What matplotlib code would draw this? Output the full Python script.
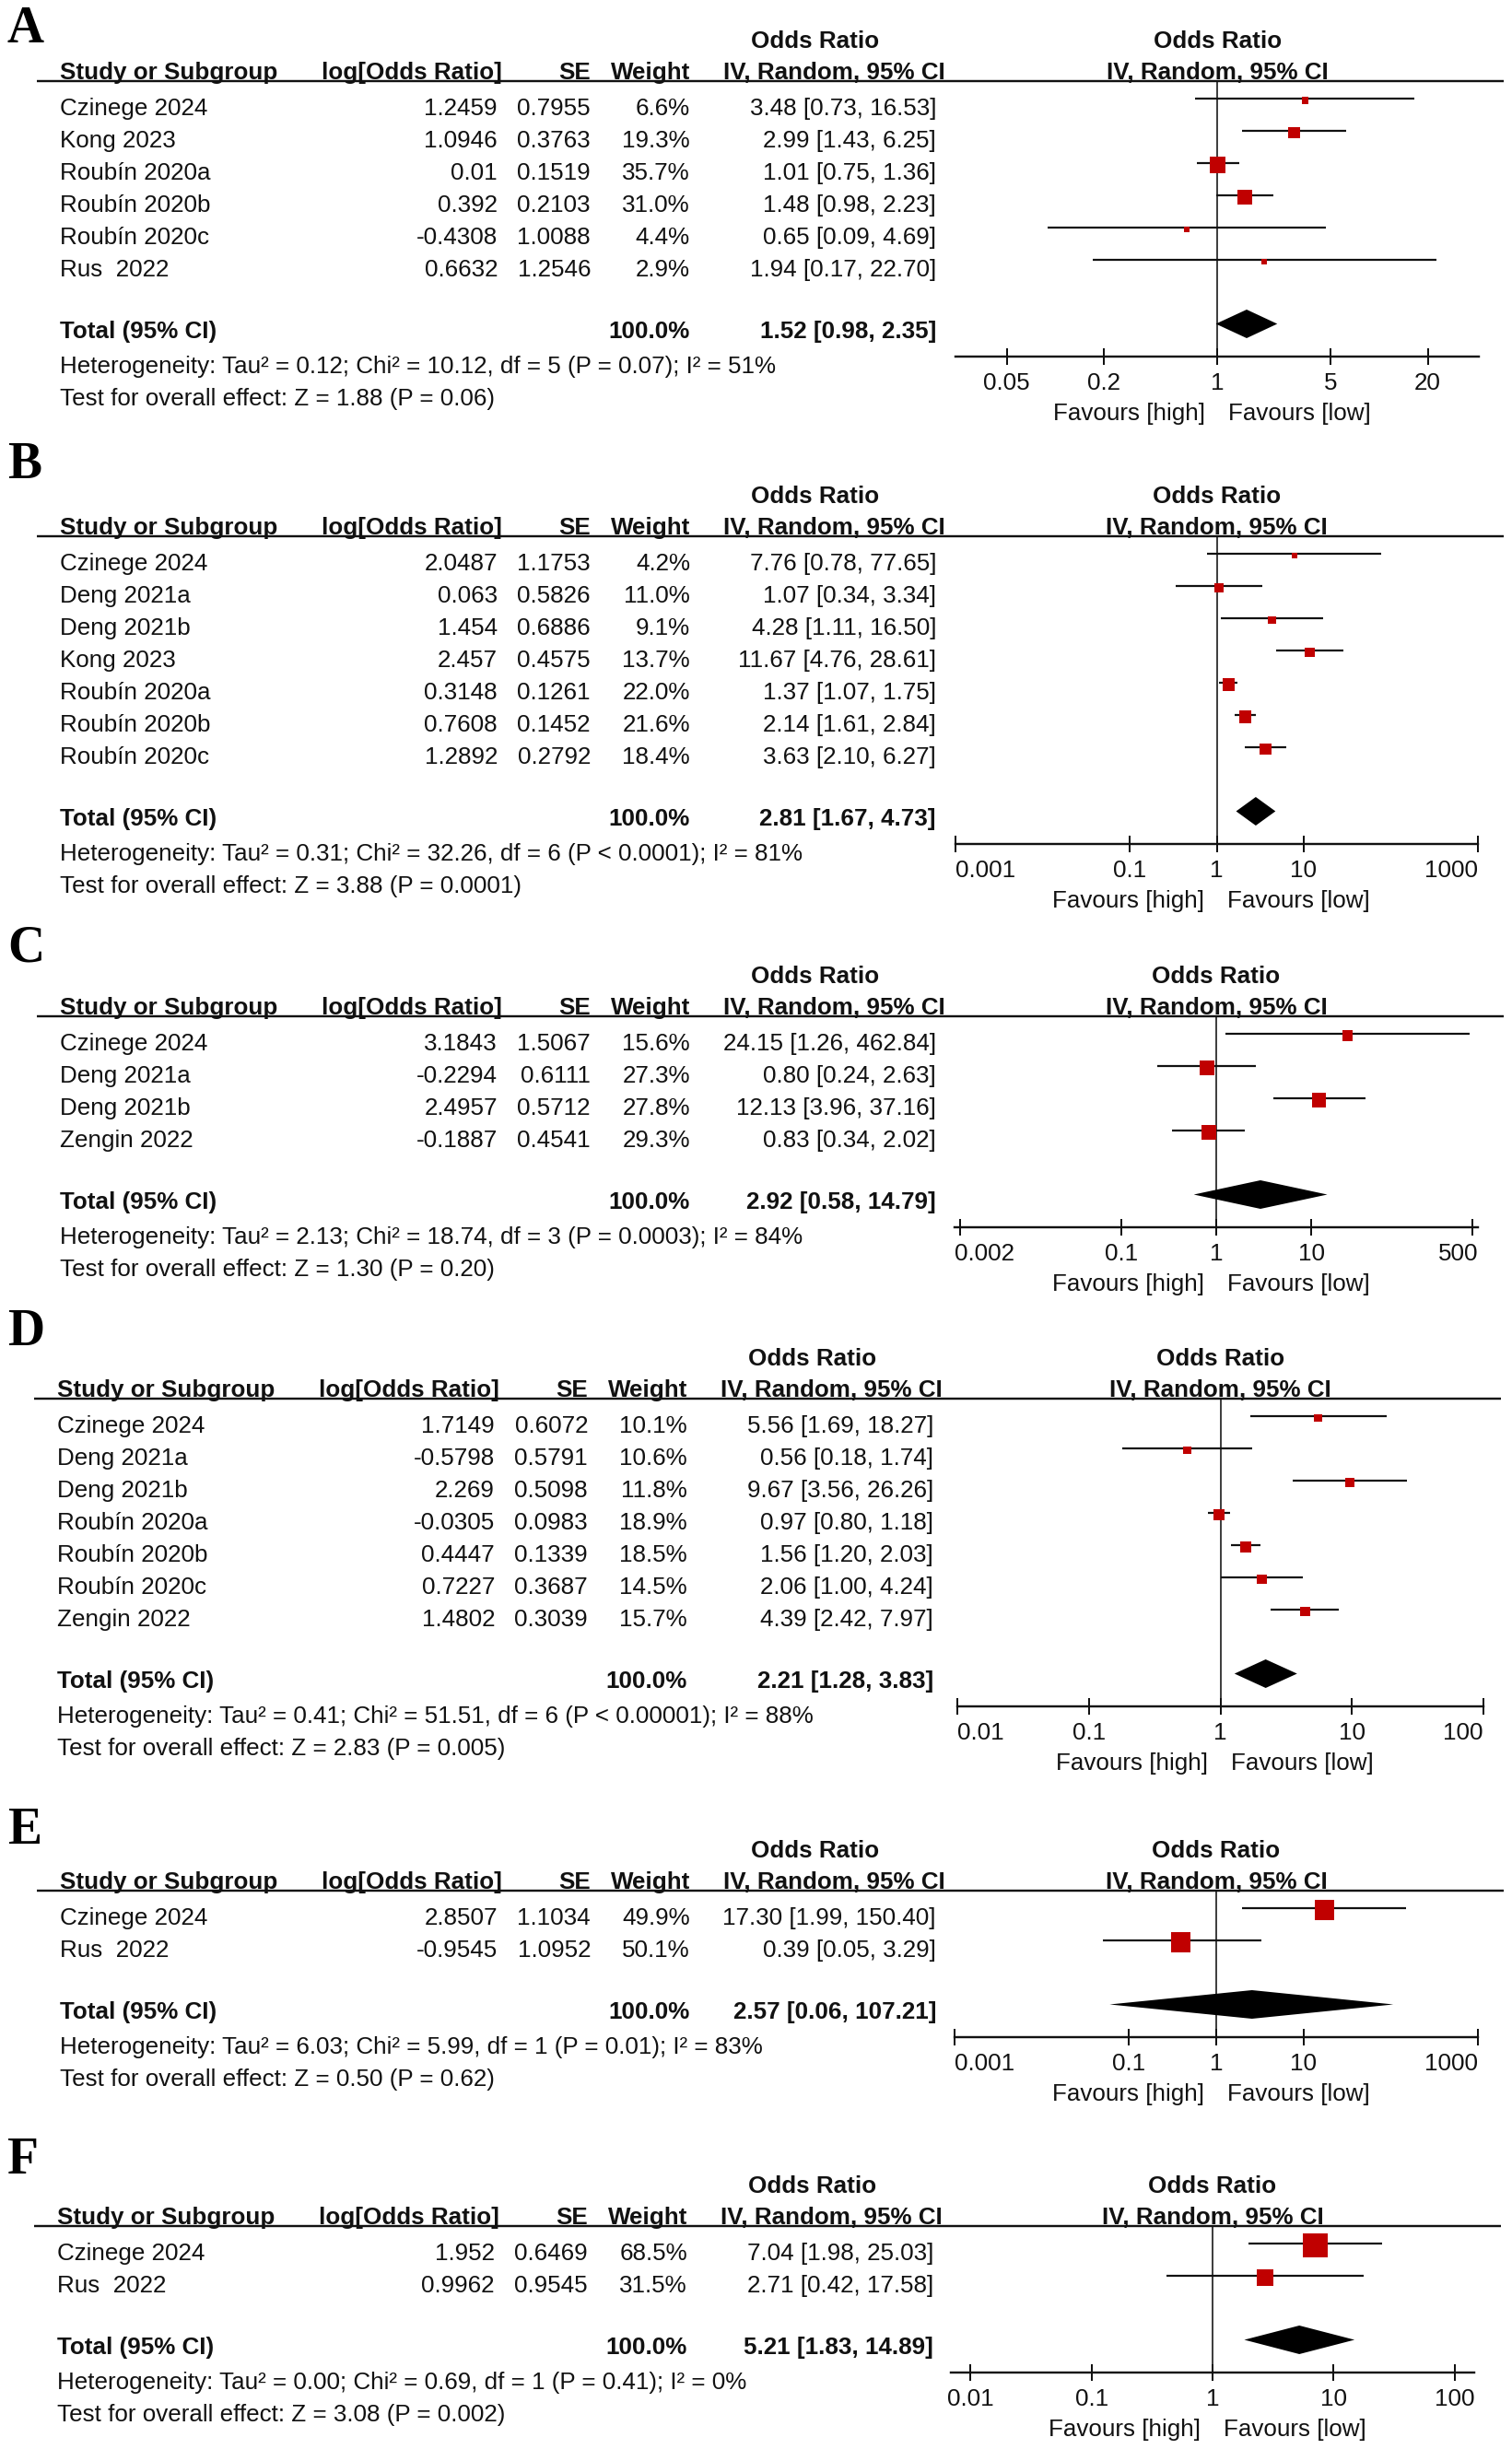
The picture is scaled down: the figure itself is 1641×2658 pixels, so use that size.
import numpy as np
import matplotlib
matplotlib.use("Agg")
import matplotlib.pyplot as plt
from matplotlib.ticker import NullLocator

# Canvas in pixels, everything below is laid out in these units.
W, H_FIG = 1641, 2658
DPI = 100
PX = 72.0 / DPI
FS = 26 * PX
RED = "#c00000"

plt.rcParams['font.family'] = ['Liberation Sans', 'DejaVu Sans']

# ---------------------------------------------------------------- data
# A
studies_a = ["Czinege 2024", "Kong 2023", "Roubín 2020a", "Roubín 2020b", "Roubín 2020c", "Rus  2022"]
logor_a = [1.2459, 1.0946, 0.01, 0.392, -0.4308, 0.6632]
se_a = [0.7955, 0.3763, 0.1519, 0.2103, 1.0088, 1.2546]
weight_a = [6.6, 19.3, 35.7, 31.0, 4.4, 2.9]
or_a = [3.48, 2.99, 1.01, 1.48, 0.65, 1.94]
lo_a = [0.73, 1.43, 0.75, 0.98, 0.09, 0.17]
hi_a = [16.53, 6.25, 1.36, 2.23, 4.69, 22.70]
total_a = [1.52, 0.98, 2.35]
het_a = [0.12, 10.12, 5, "P = 0.07", 51]
z_a = [1.88, "P = 0.06"]
ticks_a = [0.05, 0.2, 1, 5, 20]

# B
studies_b = ["Czinege 2024", "Deng 2021a", "Deng 2021b", "Kong 2023", "Roubín 2020a", "Roubín 2020b", "Roubín 2020c"]
logor_b = [2.0487, 0.063, 1.454, 2.457, 0.3148, 0.7608, 1.2892]
se_b = [1.1753, 0.5826, 0.6886, 0.4575, 0.1261, 0.1452, 0.2792]
weight_b = [4.2, 11.0, 9.1, 13.7, 22.0, 21.6, 18.4]
or_b = [7.76, 1.07, 4.28, 11.67, 1.37, 2.14, 3.63]
lo_b = [0.78, 0.34, 1.11, 4.76, 1.07, 1.61, 2.10]
hi_b = [77.65, 3.34, 16.50, 28.61, 1.75, 2.84, 6.27]
total_b = [2.81, 1.67, 4.73]
het_b = [0.31, 32.26, 6, "P < 0.0001", 81]
z_b = [3.88, "P = 0.0001"]
ticks_b = [0.001, 0.1, 1, 10, 1000]

# C
studies_c = ["Czinege 2024", "Deng 2021a", "Deng 2021b", "Zengin 2022"]
logor_c = [3.1843, -0.2294, 2.4957, -0.1887]
se_c = [1.5067, 0.6111, 0.5712, 0.4541]
weight_c = [15.6, 27.3, 27.8, 29.3]
or_c = [24.15, 0.80, 12.13, 0.83]
lo_c = [1.26, 0.24, 3.96, 0.34]
hi_c = [462.84, 2.63, 37.16, 2.02]
total_c = [2.92, 0.58, 14.79]
het_c = [2.13, 18.74, 3, "P = 0.0003", 84]
z_c = [1.30, "P = 0.20"]
ticks_c = [0.002, 0.1, 1, 10, 500]

# D
studies_d = ["Czinege 2024", "Deng 2021a", "Deng 2021b", "Roubín 2020a", "Roubín 2020b", "Roubín 2020c", "Zengin 2022"]
logor_d = [1.7149, -0.5798, 2.269, -0.0305, 0.4447, 0.7227, 1.4802]
se_d = [0.6072, 0.5791, 0.5098, 0.0983, 0.1339, 0.3687, 0.3039]
weight_d = [10.1, 10.6, 11.8, 18.9, 18.5, 14.5, 15.7]
or_d = [5.56, 0.56, 9.67, 0.97, 1.56, 2.06, 4.39]
lo_d = [1.69, 0.18, 3.56, 0.80, 1.20, 1.00, 2.42]
hi_d = [18.27, 1.74, 26.26, 1.18, 2.03, 4.24, 7.97]
total_d = [2.21, 1.28, 3.83]
het_d = [0.41, 51.51, 6, "P < 0.00001", 88]
z_d = [2.83, "P = 0.005"]
ticks_d = [0.01, 0.1, 1, 10, 100]

# E
studies_e = ["Czinege 2024", "Rus  2022"]
logor_e = [2.8507, -0.9545]
se_e = [1.1034, 1.0952]
weight_e = [49.9, 50.1]
or_e = [17.30, 0.39]
lo_e = [1.99, 0.05]
hi_e = [150.40, 3.29]
total_e = [2.57, 0.06, 107.21]
het_e = [6.03, 5.99, 1, "P = 0.01", 83]
z_e = [0.50, "P = 0.62"]
ticks_e = [0.001, 0.1, 1, 10, 1000]

# F
studies_f = ["Czinege 2024", "Rus  2022"]
logor_f = [1.952, 0.9962]
se_f = [0.6469, 0.9545]
weight_f = [68.5, 31.5]
or_f = [7.04, 2.71]
lo_f = [1.98, 0.42]
hi_f = [25.03, 17.58]
total_f = [5.21, 1.83, 14.89]
het_f = [0.00, 0.69, 1, "P = 0.41", 0]
z_f = [3.08, "P = 0.002"]
ticks_f = [0.01, 0.1, 1, 10, 100]

# ---------------------------------------------------------------- layout
panels = [
    dict(letter="A", letter_y=28, header_y=88, dx=0, plot_px=(1037, 1605), xlim=(0.0241, 41.4), box=2.85,
         studies=studies_a, logor=logor_a, se=se_a, weight=weight_a, est=or_a, lo=lo_a, hi=hi_a,
         total=total_a, het=het_a, z=z_a, ticks=ticks_a),
    dict(letter="B", letter_y=501, header_y=582, dx=0, plot_px=(1037, 1604), xlim=(0.001, 1000), box=2.9,
         studies=studies_b, logor=logor_b, se=se_b, weight=weight_b, est=or_b, lo=lo_b, hi=hi_b,
         total=total_b, het=het_b, z=z_b, ticks=ticks_b),
    dict(letter="C", letter_y=1025, header_y=1103, dx=0, plot_px=(1036, 1604), xlim=(0.00175, 571), box=2.9,
         studies=studies_c, logor=logor_c, se=se_c, weight=weight_c, est=or_c, lo=lo_c, hi=hi_c,
         total=total_c, het=het_c, z=z_c, ticks=ticks_c),
    dict(letter="D", letter_y=1442, header_y=1518, dx=-3, plot_px=(1039, 1610), xlim=(0.01, 100), box=2.75,
         studies=studies_d, logor=logor_d, se=se_d, weight=weight_d, est=or_d, lo=lo_d, hi=hi_d,
         total=total_d, het=het_d, z=z_d, ticks=ticks_d),
    dict(letter="E", letter_y=1983, header_y=2052, dx=0, plot_px=(1036, 1604), xlim=(0.001, 1000), box=3.0,
         studies=studies_e, logor=logor_e, se=se_e, weight=weight_e, est=or_e, lo=lo_e, hi=hi_e,
         total=total_e, het=het_e, z=z_e, ticks=ticks_e),
    dict(letter="F", letter_y=2341, header_y=2416, dx=-3, plot_px=(1032, 1600), xlim=(0.0069, 145), box=3.2,
         studies=studies_f, logor=logor_f, se=se_f, weight=weight_f, est=or_f, lo=lo_f, hi=hi_f,
         total=total_f, het=het_f, z=z_f, ticks=ticks_f),
]

fig = plt.figure(figsize=(W / DPI, H_FIG / DPI), dpi=DPI)
tab = fig.add_axes([0, 0, 1, 1])
tab.set_xlim(0, W)
tab.set_ylim(H_FIG, 0)
tab.axis('off')


def txt(x, y, s, ha='left', bold=False):
    # y is the visual centre of the text line
    tab.text(x, y + 9, s, ha=ha, va='baseline', fontsize=FS,
             fontweight='bold' if bold else 'normal', color='#111111')


def draw_panel(p):
    h = p['header_y']
    dx = p['dx']
    n = len(p['studies'])
    rows = h + 28 + 35 * np.arange(n)
    total_y = rows[-1] + 67
    axis_y = total_y + 29

    tab.text(8, p['letter_y'] + 18, p['letter'], family='Liberation Serif',
             fontweight='bold', fontsize=40, va='baseline')

    # table header
    txt(885 + dx, h - 45, "Odds Ratio", ha='center', bold=True)
    txt(65 + dx, h - 11, "Study or Subgroup", bold=True)
    txt(545 + dx, h - 11, "log[Odds Ratio]", ha='right', bold=True)
    txt(641 + dx, h - 11, "SE", ha='right', bold=True)
    txt(749 + dx, h - 11, "Weight", ha='right', bold=True)
    txt(1026 + dx, h - 11, "IV, Random, 95% CI", ha='right', bold=True)
    tab.plot([40 + dx, 1632 + dx], [h, h], color='#111111', lw=2.4 * PX, solid_capstyle='butt')

    # study rows
    for i in range(n):
        y = rows[i]
        txt(65 + dx, y, p['studies'][i])
        txt(540 + dx, y, str(p['logor'][i]), ha='right')
        txt(641 + dx, y, f"{p['se'][i]:.4f}", ha='right')
        txt(749 + dx, y, f"{p['weight'][i]:.1f}%", ha='right')
        txt(1016 + dx, y, f"{p['est'][i]:.2f} [{p['lo'][i]:.2f}, {p['hi'][i]:.2f}]", ha='right')

    t_est, t_lo, t_hi = p['total']
    txt(65 + dx, total_y, "Total (95% CI)", bold=True)
    txt(749 + dx, total_y, "100.0%", ha='right', bold=True)
    txt(1016 + dx, total_y, f"{t_est:.2f} [{t_lo:.2f}, {t_hi:.2f}]", ha='right', bold=True)

    tau2, chi2, df, p_het, i2 = p['het']
    txt(65 + dx, total_y + 38,
        f"Heterogeneity: Tau² = {tau2:.2f}; Chi² = {chi2:.2f}, df = {df} ({p_het}); I² = {i2}%")
    z, p_z = p['z']
    txt(65 + dx, total_y + 73, f"Test for overall effect: Z = {z:.2f} ({p_z})")

    # forest plot, y in pixel units
    x0, x1 = p['plot_px']
    ax = fig.add_axes([x0 / W, 1 - axis_y / H_FIG, (x1 - x0) / W, (axis_y - h) / H_FIG])
    ax.set_xscale('log')
    ax.set_xlim(*p['xlim'])
    ax.set_ylim(axis_y, h)
    ax.patch.set_visible(False)
    for s in ['top', 'left', 'right']:
        ax.spines[s].set_visible(False)
    ax.spines['bottom'].set_linewidth(2.4 * PX)
    ax.spines['bottom'].set_color('#111111')
    ax.set_yticks([])
    ax.xaxis.set_minor_locator(NullLocator())
    ax.set_xticks(p['ticks'], labels=[""] * len(p['ticks']))
    ax.tick_params(axis='x', direction='inout', length=18 * PX, width=2 * PX, color='#111111')

    ax.axvline(1, color='#111111', lw=1.6 * PX, zorder=1)
    ax.hlines(rows - 9, p['lo'], p['hi'], color='#111111', lw=2.2 * PX, zorder=2)
    sizes = np.maximum(6, p['box'] * np.sqrt(p['weight'])) * PX
    ax.scatter(p['est'], rows - 7, s=sizes ** 2, marker='s', color=RED, linewidths=0, zorder=3)
    ty = total_y - 6.5
    ax.fill([t_lo, t_est, t_hi, t_est], [ty, ty - 15.5, ty, ty + 15.5], color='black', lw=0, zorder=3)

    # headers above the plot
    ax.text(1, h - 45 + 9, "Odds Ratio", ha='center', va='baseline', fontsize=FS,
            fontweight='bold', color='#111111', clip_on=False)
    ax.text(1, h - 11 + 9, "IV, Random, 95% CI", ha='center', va='baseline', fontsize=FS,
            fontweight='bold', color='#111111', clip_on=False)

    # tick labels, kept inside the axis line at both ends
    lo_l, hi_l = np.log10(p['xlim'])
    for t in p['ticks']:
        frac = (np.log10(t) - lo_l) / (hi_l - lo_l)
        if frac * (x1 - x0) < 15:
            xpos, ha = p['xlim'][0], 'left'
        elif (1 - frac) * (x1 - x0) < 15:
            xpos, ha = p['xlim'][1], 'right'
        else:
            xpos, ha = t, 'center'
        ax.text(xpos, axis_y + 36, f"{t:g}", ha=ha, va='baseline', fontsize=FS,
                color='#111111', clip_on=False)

    ax.annotate("Favours [high]", xy=(1, axis_y + 69), xytext=(-13 * PX, 0), textcoords='offset points',
                ha='right', va='baseline', fontsize=FS, color='#111111', annotation_clip=False)
    ax.annotate("Favours [low]", xy=(1, axis_y + 69), xytext=(12 * PX, 0), textcoords='offset points',
                ha='left', va='baseline', fontsize=FS, color='#111111', annotation_clip=False)


for panel in panels:
    draw_panel(panel)

fig.savefig("out.png", dpi=DPI, facecolor='white')
